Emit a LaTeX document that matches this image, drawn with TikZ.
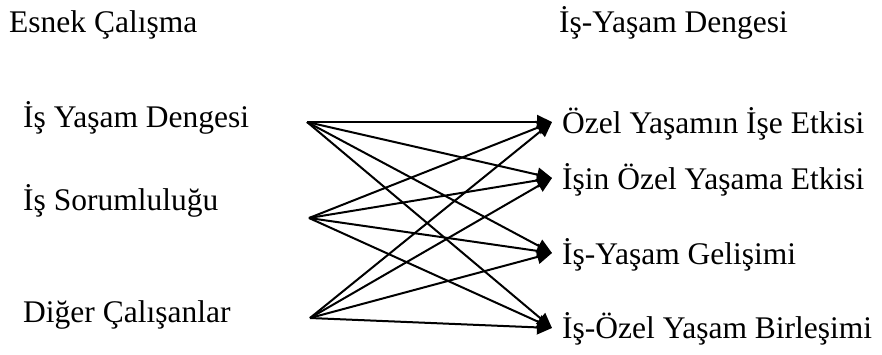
\documentclass[tikz,border=0pt]{standalone}
\usepackage{fontspec}
\setmainfont{Liberation Serif}
\usetikzlibrary{arrows.meta}
\begin{document}
\begin{tikzpicture}[x=1pt,y=-1pt,
  lbl/.style={anchor=base west,inner sep=0pt,font=\fontsize{31.5}{36}\selectfont},
  link/.style={line width=2pt,-{Triangle[length=15pt,width=14pt]}}]
\useasboundingbox (0,0) rectangle (882,354);
\node[lbl] (h1) at (9,32) {Esnek Çalışma};
\node[lbl] (h2) at (559,32) {İş-Yaşam Dengesi};
\node[lbl] (l1) at (23,127) {İş Yaşam Dengesi};
\node[lbl] (l2) at (23,210) {İş Sorumluluğu};
\node[lbl] (l3) at (23,322) {Diğer Çalışanlar};
\node[lbl] (r1) at (562,133) {Özel Yaşamın İşe Etkisi};
\node[lbl] (r2) at (562,189) {İşin Özel Yaşama Etkisi};
\node[lbl] (r3) at (562,264) {İş-Yaşam Gelişimi};
\node[lbl] (r4) at (562,338) {İş-Özel Yaşam Birleşimi};
\coordinate (s1) at (307,122);
\coordinate (s2) at (309,218);
\coordinate (s3) at (310,318);
\coordinate (t1) at (552,122);
\coordinate (t2) at (552,178);
\coordinate (t3) at (552,253);
\coordinate (t4) at (552,328);
\foreach \s in {s1,s2,s3}{
  \foreach \t in {t1,t2,t3,t4}{
    \draw[link] (\s) -- (\t);
  }
}
\end{tikzpicture}
\end{document}
